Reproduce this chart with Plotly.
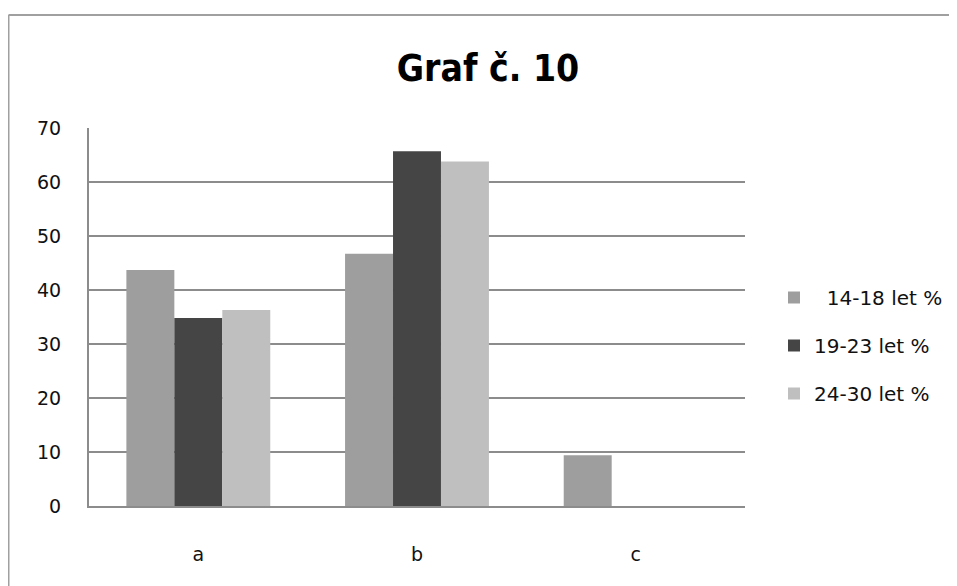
import plotly.graph_objects as go

categories = ["a", "b", "c"]
series_names = ["  14-18 let %", "19-23 let %", "24-30 let %"]
values_14_18 = [43.7, 46.7, 9.4]
values_19_23 = [34.8, 65.7, 0]
values_24_30 = [36.3, 63.8, 0]
colors = ["#9e9e9e", "#454545", "#bfbfbf"]
y_ticks = [0, 10, 20, 30, 40, 50, 60, 70]

W, H = 957, 586
OFF = 8  # page body margin
L, R, T, B = 89, 745, 128, 506  # plot area in page pixels

fig = go.Figure()
for i, (name, vals) in enumerate(zip(series_names, [values_14_18, values_19_23, values_24_30])):
    fig.add_trace(go.Bar(x=categories, y=vals, name=name, marker=dict(color=colors[i], line=dict(width=0)),
                         legendgroup=str(i)))

def px(x):
    return (x - L) / (R - L)

def py(y):
    return (B - y) / (B - T)

fig.update_layout(
    width=W, height=H,
    margin=dict(l=L - OFF, r=W - (R - OFF), t=T - OFF, b=H - (B - OFF), pad=0),
    paper_bgcolor="white", plot_bgcolor="white",
    barmode="group", bargap=0.342, bargroupgap=0,
    font=dict(family="DejaVu Sans, sans-serif", color="#111111", size=19),
    title=dict(text="<b>Graf č. 10</b>", x=(488 - OFF) / W, xanchor="center", y=1 - (68 - OFF) / H,
               yanchor="middle",
               font=dict(family="DejaVu Sans Condensed, DejaVu Sans, sans-serif", size=37, color="black")),
    showlegend=True,
    legend=dict(x=px(774), xanchor="left", y=py(278), yanchor="top", tracegroupgap=19,
                font=dict(size=20, color="#111111"), itemwidth=30, bgcolor="rgba(0,0,0,0)"),
    xaxis=dict(showline=True, linecolor="#8c8c8c", linewidth=2, showgrid=False, ticks="",
               ticklabelstandoff=30, tickfont=dict(size=19)),
    yaxis=dict(range=[0, 70], tickvals=y_ticks, showline=True, linecolor="#8c8c8c", linewidth=2,
               showgrid=True, gridcolor="#8c8c8c", gridwidth=2, zeroline=False, ticks="",
               ticklabelstandoff=22, tickfont=dict(size=19)),
    shapes=[
        dict(type="line", xref="paper", yref="paper", x0=px(8.5), x1=px(970), y0=py(15), y1=py(15),
             line=dict(color="#a0a0a0", width=2)),
        dict(type="line", xref="paper", yref="paper", x0=px(8.5), x1=px(8.5), y0=py(15), y1=py(600),
             line=dict(color="#a0a0a0", width=2)),
    ],
)

fig.write_html("out.html")
